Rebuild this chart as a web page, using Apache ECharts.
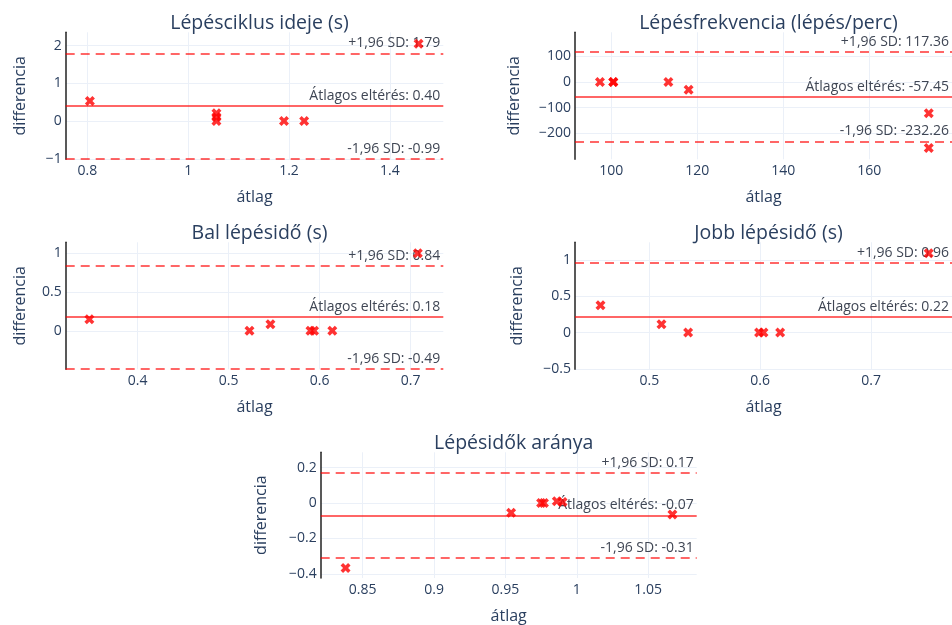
<!DOCTYPE html>
<html>
<head>
<meta charset="utf-8">
<script src="https://cdn.jsdelivr.net/npm/echarts@6/dist/echarts.min.js"></script>
<style>html,body{margin:0;padding:0;background:#fff;}#c{width:952px;height:625px;}</style>
</head>
<body>
<div id="c"></div>
<script>
// ---- data ----
const titles = ['Lépésciklus ideje (s)', 'Lépésfrekvencia (lépés/perc)', 'Bal lépésidő (s)', 'Jobb lépésidő (s)', 'Lépésidők aránya'];
const avg1 = [0.805, 1.056, 1.056, 1.056, 1.19, 1.23, 1.457];
const diff1 = [0.53, 0.21, 0.11, 0.0, 0.0, 0.0, 2.05];
const avg2 = [97.4, 100.5, 100.5, 113.3, 118.0, 173.8, 173.8];
const diff2 = [0, 0, 0, 0, -30, -122, -258];
const avg3 = [0.347, 0.523, 0.546, 0.590, 0.594, 0.614, 0.708];
const diff3 = [0.15, 0, 0.086, 0, 0, 0, 1.0];
const avg4 = [0.456, 0.511, 0.535, 0.599, 0.603, 0.618, 0.752];
const diff4 = [0.376, 0.114, 0, 0, 0, 0, 1.09];
const avg5 = [0.838, 0.954, 0.975, 0.977, 0.986, 0.990, 1.067];
const diff5 = [-0.368, -0.056, 0, 0, 0.009, 0.005, -0.065];
const meanDiff = [0.40, -57.45, 0.18, 0.22, -0.07];
const upperLoA = [1.79, 117.36, 0.84, 0.96, 0.17];
const lowerLoA = [-0.99, -232.26, -0.49, -0.51, -0.31];
const meanText = ['0.40', '-57.45', '0.18', '0.22', '-0.07'];
const upperText = ['1.79', '117.36', '0.84', '0.96', '0.17'];
const lowerText = ['-0.99', '-232.26', '-0.49', '-0.51', '-0.31'];
const xTicks1 = [0.8, 1, 1.2, 1.4], yTicks1 = [-1, 0, 1, 2];
const xTicks2 = [100, 120, 140, 160], yTicks2 = [-200, -100, 0, 100];
const xTicks3 = [0.4, 0.5, 0.6, 0.7], yTicks3 = [0, 0.5, 1];
const xTicks4 = [0.5, 0.6, 0.7], yTicks4 = [-0.5, 0, 0.5, 1];
const xTicks5 = [0.85, 0.9, 0.95, 1, 1.05], yTicks5 = [-0.4, -0.2, 0, 0.2];
const xName = 'átlag', yName = 'differencia';

// ---- layout ----
const avgs = [avg1, avg2, avg3, avg4, avg5];
const diffs = [diff1, diff2, diff3, diff4, diff5];
const xTicks = [xTicks1, xTicks2, xTicks3, xTicks4, xTicks5];
const yTicks = [yTicks1, yTicks2, yTicks3, yTicks4, yTicks5];
const grids = [
  {left: 65.7, top: 32.3, width: 377.6, height: 127},
  {left: 575, top: 32.3, width: 377, height: 127},
  {left: 65.7, top: 242.3, width: 377.6, height: 127},
  {left: 575, top: 242.3, width: 377, height: 127},
  {left: 320.7, top: 452.3, width: 376, height: 127}
];
const xRange = [[0.757, 1.506], [91.6, 179.2], [0.321, 0.736], [0.433, 0.773], [0.8206, 1.084]];
const yRange = [[-1.01, 2.35], [-302, 194], [-0.495, 1.14], [-0.505, 1.24], [-0.424, 0.286]];
const yNameGap = [37, 53, 37, 50, 51];

const FONT = '"Open Sans", Verdana, Arial, sans-serif';
const TXT = '#2a3f5f';
const ANN = '#3f4654';
const GRID = '#ebf0f8';
const LINE = 'rgba(255,0,0,0.6)';
const XSYM = 'path://M2.5,0 L5,2.5 L7.5,0 L10,2.5 L7.5,5 L10,7.5 L7.5,10 L5,7.5 L2.5,10 L0,7.5 L2.5,5 L0,2.5 Z';
const fmt = v => (v < 0 ? '\u2212' + String(Math.abs(v)) : String(v));

const option = {
  animation: false,
  backgroundColor: '#fff',
  textStyle: {fontFamily: FONT},
  title: grids.map((g, i) => ({
    text: titles[i],
    left: g.left + g.width / 2,
    top: g.top - 24,
    textAlign: 'center',
    textStyle: {fontSize: 19.5, fontWeight: 'normal', color: TXT, fontFamily: FONT}
  })),
  grid: grids.map(g => Object.assign({containLabel: false}, g)),
  xAxis: grids.map((g, i) => ({
    type: 'value', gridIndex: i, min: xRange[i][0], max: xRange[i][1],
    name: xName, nameLocation: 'middle', nameGap: 30,
    nameTextStyle: {fontSize: 16, color: TXT, fontFamily: FONT},
    axisLine: {show: false},
    axisTick: {show: false, customValues: xTicks[i]},
    axisLabel: {customValues: xTicks[i], formatter: fmt, fontSize: 14, color: TXT, margin: 5, fontFamily: FONT},
    splitLine: {show: true, lineStyle: {color: GRID, width: 1}}
  })),
  yAxis: grids.map((g, i) => ({
    type: 'value', gridIndex: i, min: yRange[i][0], max: yRange[i][1],
    name: yName, nameLocation: 'middle', nameGap: yNameGap[i],
    nameTextStyle: {fontSize: 16, color: TXT, fontFamily: FONT},
    axisLine: {show: true, onZero: false, lineStyle: {color: '#222', width: 1.5}},
    axisTick: {show: false, customValues: yTicks[i]},
    axisLabel: {customValues: yTicks[i], formatter: fmt, fontSize: 14, color: TXT, margin: 4, fontFamily: FONT},
    splitLine: {show: true, lineStyle: {color: GRID, width: 1}}
  })),
  series: []
};

grids.forEach((g, i) => {
  const lbl = (txt) => ({
    show: true, position: 'insideEndTop', formatter: txt, distance: 3,
    fontSize: 14, color: ANN, fontFamily: FONT
  });
  option.series.push({
    type: 'line', xAxisIndex: i, yAxisIndex: i, data: [], z: 1,
    markLine: {
      silent: true, symbol: 'none', animation: false,
      data: [
        {yAxis: meanDiff[i], lineStyle: {color: LINE, width: 2, type: 'solid'}, label: lbl('Átlagos eltérés: ' + meanText[i])},
        {yAxis: upperLoA[i], lineStyle: {color: LINE, width: 2, type: [9, 6]}, label: lbl('+1,96 SD: ' + upperText[i])},
        {yAxis: lowerLoA[i], lineStyle: {color: LINE, width: 2, type: [9, 6]}, label: lbl('-1,96 SD: ' + lowerText[i])}
      ]
    }
  });
  option.series.push({
    type: 'scatter', xAxisIndex: i, yAxisIndex: i, z: 5,
    symbol: XSYM, symbolSize: 10,
    itemStyle: {color: '#ff0000'},
    data: avgs[i].map((x, k) => [x, diffs[i][k]])
  });
});

const chart = echarts.init(document.getElementById('c'), null, {renderer: 'canvas'});
chart.setOption(option);
</script>
</body>
</html>
